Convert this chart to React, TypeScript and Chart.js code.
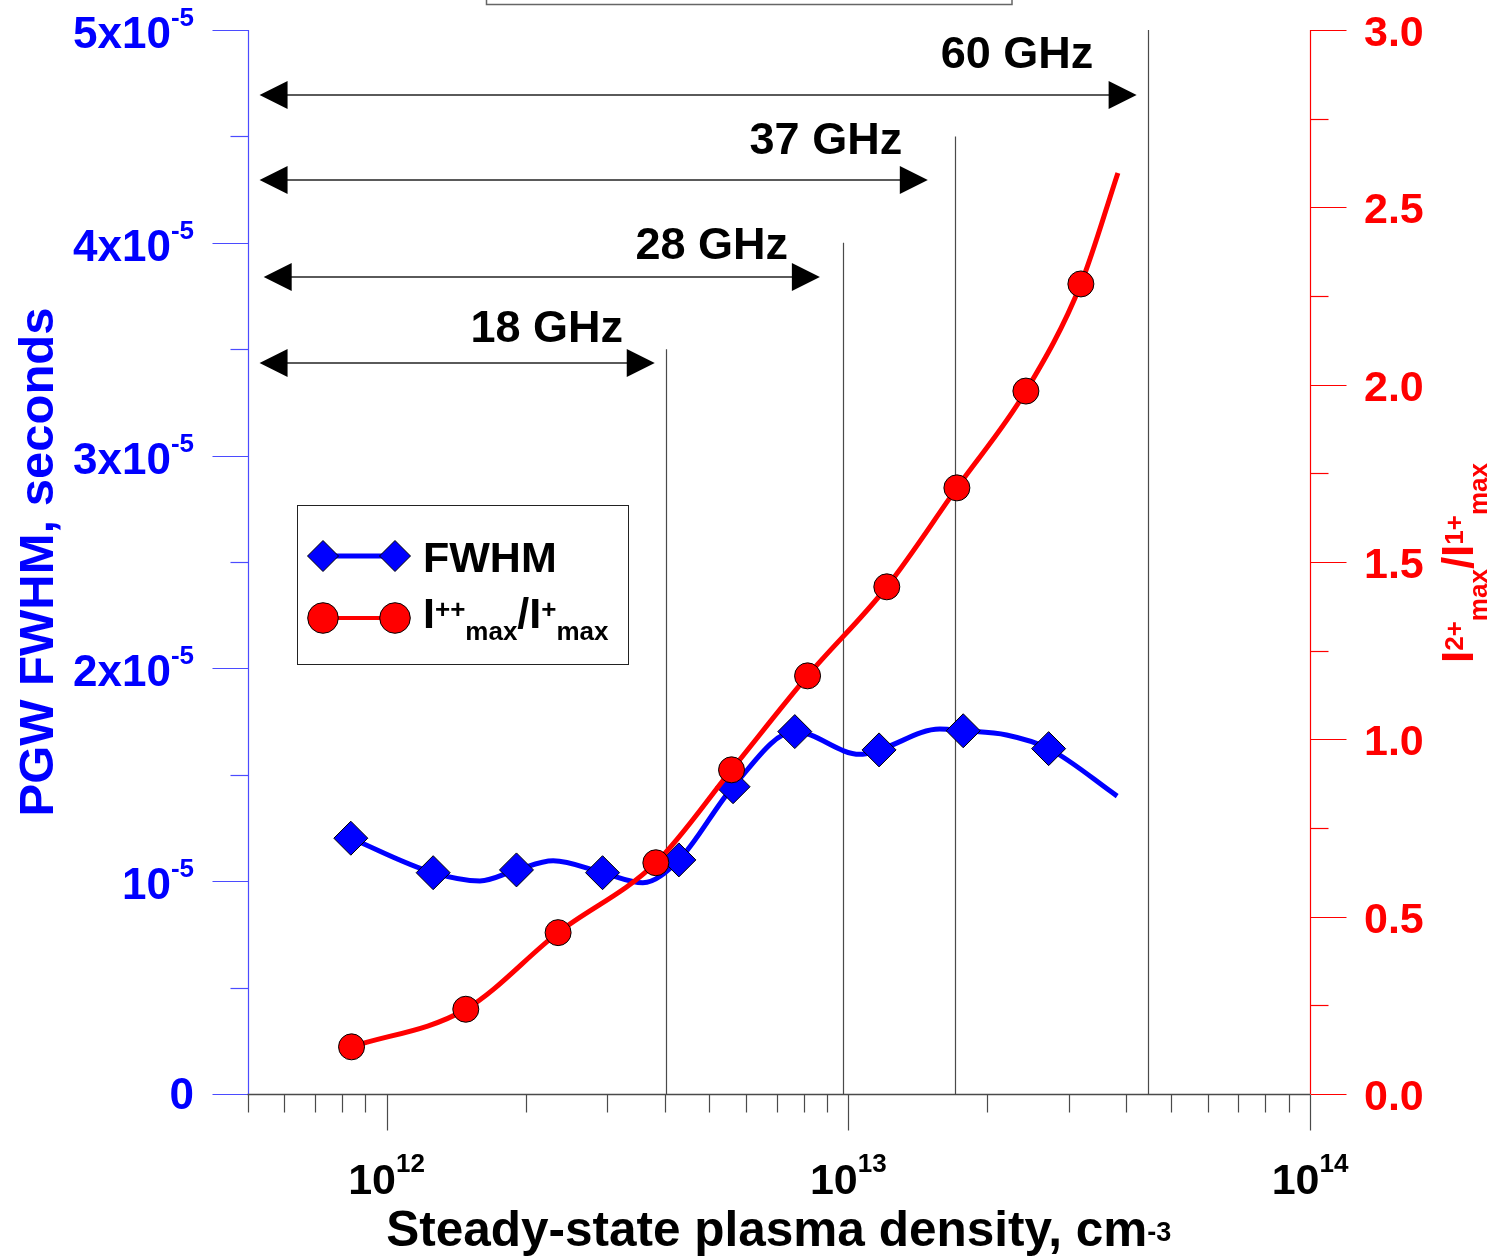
import { useEffect, useRef } from 'react';
import { Chart, registerables } from 'chart.js';

Chart.register(...registerables);

const FONT = "'Liberation Sans', Arial, Helvetica, sans-serif";
const BLUE = '#0000ff';
const RED = '#ff0000';

// PGW pulse FWHM (s) measured against steady-state plasma density (cm^-3)
const fwhmDensity = [8.37e11, 1.262e12, 1.912e12, 2.937e12, 4.297e12, 5.63e12, 7.66e12, 1.166e13, 1.774e13, 2.716e13];
const fwhmSeconds = [1.202e-5, 1.04e-5, 1.053e-5, 1.04e-5, 1.1e-5, 1.444e-5, 1.703e-5, 1.617e-5, 1.707e-5, 1.623e-5];

// smooth fit curve through the FWHM points
const fwhmFitDensity = [8.37e11, 1.262e12, 1.593e12, 1.912e12, 2.296e12, 2.937e12, 3.591e12, 4.297e12, 5.63e12, 7.66e12, 1.06e13, 1.166e13, 1.579e13, 1.774e13, 2.202e13, 2.716e13, 3.823e13];
const fwhmFitSeconds = [1.202e-5, 1.04e-5, 1.001e-5, 1.053e-5, 1.096e-5, 1.04e-5, 0.993e-5, 1.1e-5, 1.444e-5, 1.703e-5, 1.596e-5, 1.617e-5, 1.715e-5, 1.707e-5, 1.687e-5, 1.623e-5, 1.4e-5];

// ratio of doubly to singly charged ion current maxima
const ratioDensity = [8.4e11, 1.485e12, 2.353e12, 3.831e12, 5.588e12, 8.164e12, 1.212e13, 1.719e13, 2.425e13, 3.19e13];
const ratioValue = [0.133, 0.239, 0.455, 0.652, 0.914, 1.179, 1.43, 1.709, 1.982, 2.284];

// smooth fit curve through the ratio points
const ratioFitDensity = [8.4e11, 1.485e12, 2.353e12, 3.831e12, 5.588e12, 8.164e12, 1.212e13, 1.719e13, 2.425e13, 3.19e13, 3.837e13];
const ratioFitValue = [0.133, 0.239, 0.455, 0.652, 0.914, 1.179, 1.43, 1.709, 1.982, 2.284, 2.597];

// cutoff densities of the heating frequencies and their range arrows
const bandLabels = ['18 GHz', '28 GHz', '37 GHz', '60 GHz'];
const cutoffDensity = [4.02e12, 9.72e12, 1.7e13, 4.46e13];
const cutoffTop = [3.5e-5, 4.0e-5, 4.5e-5, 5.0e-5];
const arrowLevel = [3.435e-5, 3.839e-5, 4.295e-5, 4.695e-5];
const arrowFrom = [5.31e11, 5.42e11, 5.31e11, 5.31e11];
const arrowTo = [3.81e12, 8.68e12, 1.487e13, 4.213e13];
const labelDensity = [2.224e12, 5.065e12, 8.944e12, 2.32e13];
const labelLevel = [3.609e-5, 3.999e-5, 4.492e-5, 4.897e-5];

// axis ticks
const xDecades = [12, 13, 14];
const leftTicks = [0, 1e-5, 2e-5, 3e-5, 4e-5, 5e-5];
const leftMultipliers = ['', '', '2x', '3x', '4x', '5x'];
const rightTicks = [0, 0.5, 1.0, 1.5, 2.0, 2.5, 3.0];

type Run = { text: string; size: number; dy: number };

function runsWidth(ctx: CanvasRenderingContext2D, runs: Run[]) {
  let w = 0;
  for (const r of runs) {
    ctx.font = `bold ${r.size}px ${FONT}`;
    w += ctx.measureText(r.text).width;
  }
  return w;
}

function drawRuns(ctx: CanvasRenderingContext2D, runs: Run[], x: number, y: number) {
  let cx = x;
  ctx.textAlign = 'left';
  ctx.textBaseline = 'alphabetic';
  for (const r of runs) {
    ctx.font = `bold ${r.size}px ${FONT}`;
    ctx.fillText(r.text, cx, y + r.dy);
    cx += ctx.measureText(r.text).width;
  }
}

function diamond(ctx: CanvasRenderingContext2D, x: number, y: number, r: number) {
  ctx.beginPath();
  ctx.moveTo(x - r, y);
  ctx.lineTo(x, y - r);
  ctx.lineTo(x + r, y);
  ctx.lineTo(x, y + r);
  ctx.closePath();
  ctx.fill();
  ctx.stroke();
}

function disc(ctx: CanvasRenderingContext2D, x: number, y: number, r: number) {
  ctx.beginPath();
  ctx.arc(x, y, r, 0, Math.PI * 2);
  ctx.fill();
  ctx.stroke();
}

const decorations = {
  id: 'decorations',
  beforeDatasetsDraw(chart: any) {
    const { ctx, chartArea: a, scales } = chart;
    const xs = scales.x;
    const yl = scales.yL;
    ctx.save();

    // cutoff lines
    ctx.strokeStyle = '#4a4a4a';
    ctx.lineWidth = 1.2;
    cutoffDensity.forEach((d, i) => {
      const px = Math.round(xs.getPixelForValue(d)) + 0.5;
      ctx.beginPath();
      ctx.moveTo(px, yl.getPixelForValue(cutoffTop[i]));
      ctx.lineTo(px, a.bottom);
      ctx.stroke();
    });

    // range arrows
    const head = 28;
    const half = 14;
    arrowLevel.forEach((lvl, i) => {
      const y = yl.getPixelForValue(lvl);
      const x0 = xs.getPixelForValue(arrowFrom[i]);
      const x1 = xs.getPixelForValue(arrowTo[i]);
      ctx.strokeStyle = '#5a5a5a';
      ctx.lineWidth = 2;
      ctx.beginPath();
      ctx.moveTo(x0 + head - 2, y);
      ctx.lineTo(x1 - head + 2, y);
      ctx.stroke();
      ctx.fillStyle = '#000';
      ctx.beginPath();
      ctx.moveTo(x0, y);
      ctx.lineTo(x0 + head, y - half);
      ctx.lineTo(x0 + head, y + half);
      ctx.closePath();
      ctx.fill();
      ctx.beginPath();
      ctx.moveTo(x1, y);
      ctx.lineTo(x1 - head, y - half);
      ctx.lineTo(x1 - head, y + half);
      ctx.closePath();
      ctx.fill();
    });

    // frequency labels
    ctx.fillStyle = '#000';
    ctx.font = `bold 45px ${FONT}`;
    ctx.textAlign = 'center';
    ctx.textBaseline = 'alphabetic';
    bandLabels.forEach((t, i) => {
      ctx.fillText(t, xs.getPixelForValue(labelDensity[i]), yl.getPixelForValue(labelLevel[i]) + 16);
    });
    ctx.restore();
  },
  afterDatasetsDraw(chart: any) {
    const { ctx, chartArea: a, scales } = chart;
    const xs = scales.x;
    const yl = scales.yL;
    const yr = scales.yR;
    ctx.save();

    // frame box above the plot
    ctx.strokeStyle = '#666';
    ctx.lineWidth = 1.5;
    ctx.strokeRect(486.5, -10, 525.5, 14.5);

    // left axis (blue)
    ctx.strokeStyle = '#4b4bff';
    ctx.lineWidth = 1.2;
    const lx = Math.round(a.left) + 0.5;
    ctx.beginPath();
    ctx.moveTo(lx, a.top);
    ctx.lineTo(lx, a.bottom);
    ctx.stroke();
    for (let k = 0; k <= 10; k++) {
      const v = k * 0.5e-5;
      const py = Math.round(yl.getPixelForValue(v)) + 0.5;
      const len = k % 2 === 0 ? 36 : 18;
      ctx.beginPath();
      ctx.moveTo(lx - len, py);
      ctx.lineTo(lx, py);
      ctx.stroke();
    }
    ctx.fillStyle = BLUE;
    leftTicks.forEach((v, i) => {
      const py = yl.getPixelForValue(v);
      const runs: Run[] = v === 0
        ? [{ text: '0', size: 44, dy: 0 }]
        : [{ text: `${leftMultipliers[i]}10`, size: 44, dy: 0 }, { text: '-5', size: 26, dy: -22 }];
      const w = runsWidth(ctx, runs);
      drawRuns(ctx, runs, 194 - w, py + (v === 0 ? 15 : 18));
    });

    // right axis (red)
    ctx.strokeStyle = RED;
    ctx.lineWidth = 1.2;
    const rx = Math.round(a.right) + 0.5;
    ctx.beginPath();
    ctx.moveTo(rx, a.top);
    ctx.lineTo(rx, a.bottom);
    ctx.stroke();
    for (let k = 0; k <= 12; k++) {
      const v = k * 0.25;
      const py = Math.round(yr.getPixelForValue(v)) + 0.5;
      const len = k % 2 === 0 ? 36 : 18;
      ctx.beginPath();
      ctx.moveTo(rx, py);
      ctx.lineTo(rx + len, py);
      ctx.stroke();
    }
    ctx.fillStyle = RED;
    ctx.font = `bold 43px ${FONT}`;
    ctx.textAlign = 'left';
    ctx.textBaseline = 'alphabetic';
    rightTicks.forEach((v) => {
      ctx.fillText(v.toFixed(1), 1364, yr.getPixelForValue(v) + 16);
    });

    // bottom axis (log)
    ctx.strokeStyle = '#4a4a4a';
    ctx.lineWidth = 1.5;
    const by = Math.round(a.bottom) + 0.5;
    ctx.beginPath();
    ctx.moveTo(a.left, by);
    ctx.lineTo(a.right, by);
    ctx.stroke();
    ctx.lineWidth = 1.2;
    for (let d = 11; d <= 14; d++) {
      for (let m = 1; m <= 9; m++) {
        const v = m * Math.pow(10, d);
        if (v < xs.min * 0.999 || v > xs.max * 1.001) continue;
        const px = Math.round(xs.getPixelForValue(v)) + 0.5;
        const len = m === 1 ? 36 : 18;
        ctx.beginPath();
        ctx.moveTo(px, by);
        ctx.lineTo(px, by + len);
        ctx.stroke();
      }
    }
    ctx.fillStyle = '#000';
    xDecades.forEach((e) => {
      const px = xs.getPixelForValue(Math.pow(10, e));
      const runs: Run[] = [{ text: '10', size: 43, dy: 0 }, { text: String(e), size: 26, dy: -22 }];
      const w = runsWidth(ctx, runs);
      drawRuns(ctx, runs, px - w / 2, 1194);
    });

    // axis titles
    const xTitle: Run[] = [
      { text: 'Steady-state plasma density, cm', size: 49.5, dy: 0 },
      { text: '-3', size: 27, dy: -5 },
    ];
    ctx.fillStyle = '#000';
    const xw = runsWidth(ctx, xTitle);
    drawRuns(ctx, xTitle, (a.left + a.right) / 2 - xw / 2, 1246);

    ctx.save();
    ctx.translate(53, 562);
    ctx.rotate(-Math.PI / 2);
    ctx.fillStyle = BLUE;
    ctx.font = `bold 49px ${FONT}`;
    ctx.textAlign = 'center';
    ctx.textBaseline = 'alphabetic';
    ctx.fillText('PGW FWHM, seconds', 0, 0);
    ctx.restore();

    const rTitle: Run[] = [
      { text: 'I', size: 44, dy: 0 },
      { text: '2+', size: 26, dy: -10 },
      { text: 'max', size: 26, dy: 14 },
      { text: '/I', size: 44, dy: 0 },
      { text: '1+', size: 26, dy: -10 },
      { text: 'max', size: 26, dy: 14 },
    ];
    ctx.save();
    ctx.translate(1473, 563);
    ctx.rotate(-Math.PI / 2);
    ctx.fillStyle = RED;
    const rw = runsWidth(ctx, rTitle);
    drawRuns(ctx, rTitle, -rw / 2, 0);
    ctx.restore();

    // legend
    ctx.fillStyle = '#fff';
    ctx.fillRect(297.5, 505.5, 331, 159);
    ctx.strokeStyle = '#222';
    ctx.lineWidth = 1;
    ctx.strokeRect(297.5, 505.5, 331, 159);

    ctx.strokeStyle = BLUE;
    ctx.lineWidth = 5;
    ctx.beginPath();
    ctx.moveTo(323, 556);
    ctx.lineTo(395, 556);
    ctx.stroke();
    ctx.fillStyle = BLUE;
    ctx.strokeStyle = '#000';
    ctx.lineWidth = 1;
    diamond(ctx, 323, 556, 15.5);
    diamond(ctx, 395, 556, 15.5);

    ctx.strokeStyle = RED;
    ctx.lineWidth = 4;
    ctx.beginPath();
    ctx.moveTo(323, 618);
    ctx.lineTo(395, 618);
    ctx.stroke();
    ctx.fillStyle = RED;
    ctx.strokeStyle = '#000';
    ctx.lineWidth = 1;
    disc(ctx, 323, 618, 15.3);
    disc(ctx, 395, 618, 15.3);

    ctx.fillStyle = '#000';
    drawRuns(ctx, [{ text: 'FWHM', size: 43, dy: 0 }], 423, 572);
    drawRuns(ctx, [
      { text: 'I', size: 43, dy: 0 },
      { text: '++', size: 26, dy: -10 },
      { text: 'max', size: 26, dy: 12 },
      { text: '/I', size: 43, dy: 0 },
      { text: '+', size: 26, dy: -10 },
      { text: 'max', size: 26, dy: 12 },
    ], 423, 628);

    ctx.restore();
  },
};

export default function App() {
  const canvasRef = useRef<HTMLCanvasElement | null>(null);

  useEffect(() => {
    const canvas = canvasRef.current;
    if (!canvas) return;
    const pts = (xs: number[], ys: number[]) => xs.map((x, i) => ({ x, y: ys[i] }));

    const chart = new Chart(canvas, {
      type: 'line',
      data: {
        datasets: [
          {
            label: 'ratio points',
            data: pts(ratioDensity, ratioValue),
            yAxisID: 'yR',
            showLine: false,
            pointStyle: 'circle',
            pointRadius: 13,
            pointBackgroundColor: RED,
            pointBorderColor: '#000',
            pointBorderWidth: 1,
            order: 0,
          },
          {
            label: 'ratio fit',
            data: pts(ratioFitDensity, ratioFitValue),
            yAxisID: 'yR',
            borderColor: RED,
            borderWidth: 5,
            pointRadius: 0,
            cubicInterpolationMode: 'monotone',
            order: 1,
          },
          {
            label: 'FWHM points',
            data: pts(fwhmDensity, fwhmSeconds),
            yAxisID: 'yL',
            showLine: false,
            pointStyle: 'rectRot',
            pointRadius: 17,
            pointBackgroundColor: BLUE,
            pointBorderColor: '#000',
            pointBorderWidth: 1,
            order: 2,
          },
          {
            label: 'FWHM fit',
            data: pts(fwhmFitDensity, fwhmFitSeconds),
            yAxisID: 'yL',
            borderColor: BLUE,
            borderWidth: 5,
            pointRadius: 0,
            cubicInterpolationMode: 'monotone',
            order: 3,
          },
        ],
      },
      options: {
        animation: false,
        responsive: false,
        devicePixelRatio: 1,
        layout: { padding: { left: 247.5, right: 185, top: 30, bottom: 164 } },
        plugins: { legend: { display: false }, tooltip: { enabled: false } },
        events: [],
        scales: {
          x: { type: 'logarithmic', min: 5e11, max: 1e14, display: false },
          yL: { type: 'linear', position: 'left', min: 0, max: 5e-5, display: false },
          yR: { type: 'linear', position: 'right', min: 0, max: 3, display: false },
        },
      },
      plugins: [decorations],
    } as any);

    return () => chart.destroy();
  }, []);

  return (
    <div style={{ position: 'absolute', left: 0, top: 0, width: 1495, height: 1258, background: '#fff' }}>
      <canvas ref={canvasRef} width={1495} height={1258} />
    </div>
  );
}
